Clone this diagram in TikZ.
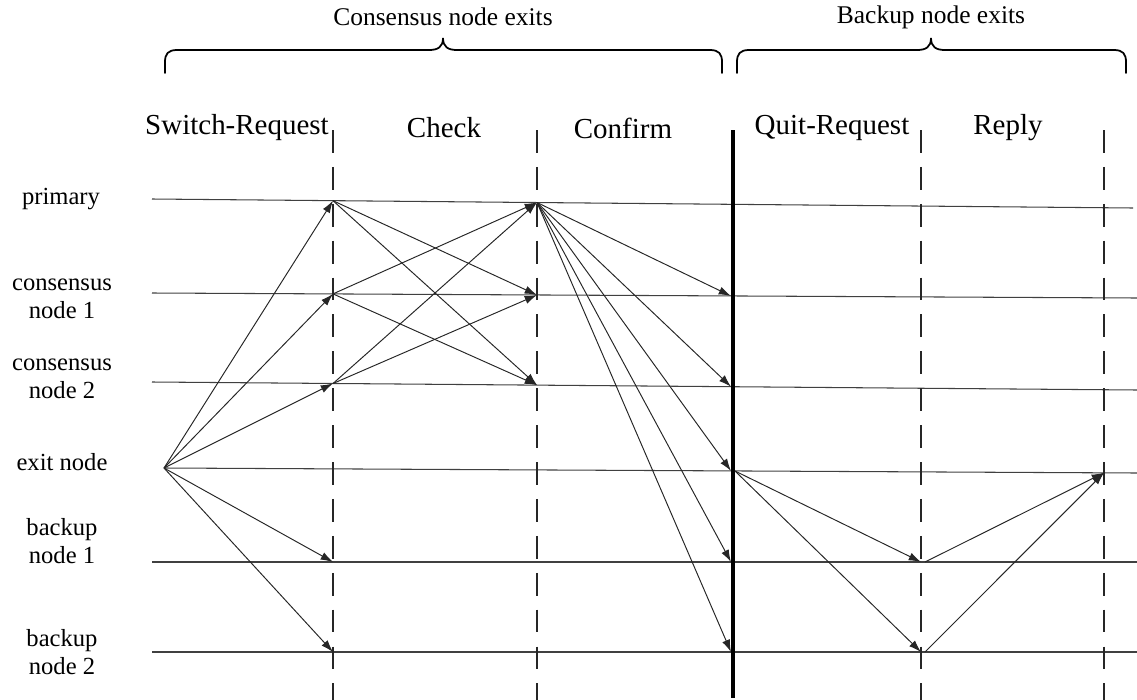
\documentclass[tikz,border=0pt]{standalone}
\usepackage{fontspec}
\setmainfont{Liberation Serif}
\usetikzlibrary{arrows.meta}
\begin{document}
\begin{tikzpicture}[x=0.02cm,y=-0.02cm,
  lane/.style={draw=black!75, line width=0.6pt},
  phase/.style={draw=black!85, line width=0.7pt, dash pattern=on 13pt off 8pt},
  cut/.style={draw=black, line width=1.8pt},
  msg/.style={draw=black!85, line width=0.55pt, -{Latex[length=7pt,width=4.6pt]}},
  rowlabel/.style={font=\fontsize{14}{16}\selectfont, align=center, inner sep=0pt},
  collabel/.style={font=\fontsize{16.5}{19}\selectfont, inner sep=0pt},
  grouplabel/.style={font=\fontsize{14.5}{17}\selectfont, inner sep=0pt},
  brace/.style={draw=black, line width=1pt, line cap=round}]

\useasboundingbox (0,0) rectangle (1137,700);

% group headings and braces
\node[grouplabel] (g1) at (443,17) {Consensus node exits};
\node[grouplabel] (g2) at (931,17) {Backup node exits};
\draw[brace] (165,73) -- (165,62) .. controls (165,54) and (168,50) .. (177,50)
  -- (429,50) .. controls (438,50) and (443,47) .. (443,38)
  .. controls (443,47) and (448,50) .. (457,50)
  -- (710,50) .. controls (719,50) and (722,54) .. (722,62) -- (722,73);
\draw[brace] (737,73) -- (737,62) .. controls (737,54) and (740,50) .. (749,50)
  -- (917,50) .. controls (926,50) and (931,47) .. (931,38)
  .. controls (931,47) and (936,50) .. (945,50)
  -- (1114,50) .. controls (1123,50) and (1126,54) .. (1126,62) -- (1126,73);

% phase names
\node[collabel] (s1) at (237,128) {Switch-Request};
\node[collabel] (s2) at (444,128) {Check};
\node[collabel] (s3) at (623,128) {Confirm};
\node[collabel] (s4) at (832,128) {Quit-Request};
\node[collabel] (s5) at (1008,128) {Reply};

% participants
\node[rowlabel] (lp)  at (61,199) {primary};
\node[rowlabel] (lc1) at (62,299) {consensus\\node 1};
\node[rowlabel] (lc2) at (62,379) {consensus\\node 2};
\node[rowlabel] (lx)  at (62,462) {exit node};
\node[rowlabel] (lb1) at (62,541) {backup\\node 1};
\node[rowlabel] (lb2) at (62,652) {backup\\node 2};

% lifeline ends
\coordinate (P0)  at (152,199);   \coordinate (P9)  at (1133,208);
\coordinate (C10) at (152,293);   \coordinate (C19) at (1137,298);
\coordinate (C20) at (152,382);   \coordinate (C29) at (1137,390);
\coordinate (X0)  at (164,468);   \coordinate (X9)  at (1137,473);
\coordinate (B10) at (152,562);   \coordinate (B19) at (1137,562);
\coordinate (B20) at (152,652);   \coordinate (B29) at (1137,652);
\foreach \a/\b in {P0/P9,C10/C19,C20/C29,X0/X9,B10/B19,B20/B29}
  \draw[lane] (\a) -- (\b);

% phase boundaries
\coordinate (v1t) at (333,130);  \coordinate (v1b) at (333,700);
\coordinate (v2t) at (537,130);  \coordinate (v2b) at (537,700);
\coordinate (v3t) at (733,130);  \coordinate (v3b) at (733,698);
\coordinate (v4t) at (921,130);  \coordinate (v4b) at (921,700);
\coordinate (v5t) at (1104,130); \coordinate (v5b) at (1104,700);
\draw[phase] (v1t) -- (v1b);
\draw[phase] (v2t) -- (v2b);
\draw[cut]   (v3t) -- (v3b);
\draw[phase] (v4t) -- (v4b);
\draw[phase] (v5t) -- (v5b);

% message events
\coordinate (Pa)  at (333,200.7);
\coordinate (C1a) at (333,293.9);
\coordinate (C2a) at (333,383.5);
\coordinate (B1a) at (333,562);
\coordinate (B2a) at (333,652);
\coordinate (Pb)  at (537,202.5);
\coordinate (C1b) at (537,295);
\coordinate (C2b) at (537,385.1);
\coordinate (C1c) at (731,296);
\coordinate (C2c) at (731,386.7);
\coordinate (Xc)  at (731,470.9);
\coordinate (B1c) at (731,562);
\coordinate (B2c) at (731,652);
\coordinate (Xd)  at (735,471);
\coordinate (B1d) at (921,562);
\coordinate (B2d) at (921,652);
\coordinate (B1e) at (925,562);
\coordinate (B2e) at (925,652);
\coordinate (Xe)  at (1104,472.8);

% Switch-Request
\foreach \t in {Pa,C1a,C2a,B1a,B2a}
  \draw[msg] (X0) -- (\t);
% Check
\draw[msg] (Pa) -- (C1b);
\draw[msg] (Pa) -- (C2b);
\draw[msg] (C1a) -- (Pb);
\draw[msg] (C1a) -- (C2b);
\draw[msg] (C2a) -- (Pb);
\draw[msg] (C2a) -- (C1b);
% Confirm
\foreach \t in {C1c,C2c,Xc,B1c,B2c}
  \draw[msg] (Pb) -- (\t);
% Quit-Request
\draw[msg] (Xd) -- (B1d);
\draw[msg] (Xd) -- (B2d);
% Reply
\draw[msg] (B1e) -- (Xe);
\draw[msg] (B2e) -- (Xe);
\end{tikzpicture}
\end{document}
